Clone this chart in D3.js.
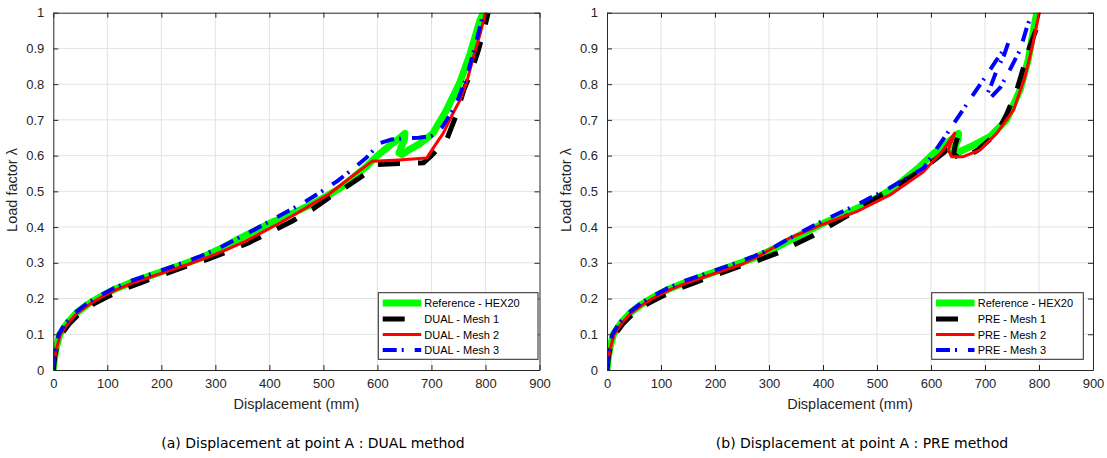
<!DOCTYPE html>
<html>
<head>
<meta charset="utf-8">
<script src="https://cdn.jsdelivr.net/npm/d3@7"></script>
<style>
  html, body { margin: 0; padding: 0; background: #fff; }
  svg { display: block; }
</style>
</head>
<body>
<svg id="chart" width="1107" height="458"></svg>
<script>
// ---------- data ----------
const xTicks = [0, 100, 200, 300, 400, 500, 600, 700, 800, 900];
const yTicks = [0, 0.1, 0.2, 0.3, 0.4, 0.5, 0.6, 0.7, 0.8, 0.9, 1];
const yTickLabels = ["0", "0.1", "0.2", "0.3", "0.4", "0.5", "0.6", "0.7", "0.8", "0.9", "1"];

const seriesNamesDual = ["Reference - HEX20", "DUAL - Mesh 1", "DUAL - Mesh 2", "DUAL - Mesh 3"];
const seriesNamesPre  = ["Reference - HEX20", "PRE - Mesh 1", "PRE - Mesh 2", "PRE - Mesh 3"];
const captions = ["(a) Displacement at point A : DUAL method", "(b) Displacement at point A : PRE method"];

// (a) DUAL
const refDualX = [0, 2, 5, 12, 25, 43, 65, 87, 115, 148, 180, 210, 240, 272, 310, 346, 380, 407, 440, 469, 500, 531, 560, 580, 600, 620, 640, 651, 650, 643, 640, 646, 654, 680, 703, 728, 752, 772, 790, 796];
const refDualY = [0, 0.03, 0.06, 0.10, 0.13, 0.16, 0.185, 0.205, 0.227, 0.247, 0.264, 0.28, 0.296, 0.313, 0.34, 0.369, 0.395, 0.415, 0.436, 0.457, 0.482, 0.509, 0.545, 0.57, 0.60, 0.625, 0.648, 0.662, 0.645, 0.62, 0.607, 0.603, 0.612, 0.635, 0.663, 0.728, 0.803, 0.887, 0.98, 1.0];
const dual1X = [0, 3, 7, 15, 30, 50, 75, 100, 130, 165, 200, 240, 280, 320, 360, 400, 440, 480, 509, 540, 580, 600, 640, 685, 700, 728, 745, 760, 775, 787, 797, 805];
const dual1Y = [0, 0.04, 0.07, 0.10, 0.13, 0.16, 0.185, 0.205, 0.226, 0.246, 0.265, 0.287, 0.307, 0.33, 0.355, 0.385, 0.415, 0.45, 0.481, 0.51, 0.551, 0.575, 0.578, 0.58, 0.60, 0.644, 0.71, 0.784, 0.84, 0.896, 0.95, 1.0];
const dual2X = [0, 2, 6, 13, 27, 45, 68, 90, 120, 150, 185, 215, 250, 285, 320, 355, 390, 420, 450, 480, 510, 540, 565, 590, 640, 691, 705, 722, 737, 753, 766, 778, 790, 800];
const dual2Y = [0, 0.03, 0.06, 0.10, 0.13, 0.16, 0.185, 0.205, 0.227, 0.245, 0.263, 0.278, 0.296, 0.315, 0.336, 0.36, 0.388, 0.412, 0.438, 0.465, 0.492, 0.527, 0.556, 0.584, 0.588, 0.593, 0.625, 0.663, 0.71, 0.756, 0.81, 0.878, 0.94, 1.0];
const dual3X = [0, 1, 4, 10, 22, 40, 62, 85, 112, 145, 178, 208, 240, 270, 305, 340, 375, 405, 435, 465, 495, 525, 555, 580, 605, 625, 654, 676, 700, 720, 744, 765, 784, 796];
const dual3Y = [0, 0.03, 0.06, 0.10, 0.13, 0.16, 0.186, 0.207, 0.229, 0.25, 0.267, 0.283, 0.3, 0.317, 0.34, 0.367, 0.395, 0.42, 0.445, 0.47, 0.498, 0.528, 0.563, 0.595, 0.635, 0.645, 0.649, 0.65, 0.655, 0.68, 0.738, 0.82, 0.924, 1.0];

// (b) PRE
const refPreX = [0, 2, 5, 12, 25, 43, 65, 87, 115, 148, 180, 210, 240, 272, 310, 346, 380, 407, 440, 469, 500, 531, 560, 580, 600, 620, 640, 651, 650, 643, 640, 646, 654, 680, 709, 740, 765, 780, 792, 796];
const refPreY = [0, 0.03, 0.06, 0.10, 0.13, 0.16, 0.185, 0.205, 0.227, 0.247, 0.264, 0.28, 0.296, 0.313, 0.34, 0.369, 0.395, 0.415, 0.436, 0.457, 0.482, 0.509, 0.545, 0.57, 0.60, 0.625, 0.648, 0.662, 0.645, 0.62, 0.607, 0.603, 0.612, 0.63, 0.653, 0.70, 0.784, 0.868, 0.97, 1.0];
const pre1X = [0, 3, 7, 15, 30, 50, 75, 100, 130, 165, 200, 240, 280, 320, 339, 380, 420, 460, 493, 530, 573, 600, 625, 645, 650, 645, 642, 655, 686, 722, 740, 759, 783, 799, 805];
const pre1Y = [0, 0.04, 0.07, 0.10, 0.13, 0.16, 0.185, 0.205, 0.226, 0.246, 0.265, 0.287, 0.307, 0.33, 0.345, 0.375, 0.41, 0.445, 0.476, 0.51, 0.551, 0.58, 0.61, 0.645, 0.655, 0.63, 0.605, 0.588, 0.615, 0.663, 0.715, 0.784, 0.906, 0.971, 1.0];
const pre2X = [0, 2, 6, 13, 27, 45, 68, 90, 120, 150, 185, 215, 250, 285, 339, 400, 462, 524, 586, 623, 644, 638, 632, 638, 660, 691, 722, 753, 774, 789, 799, 801];
const pre2Y = [0, 0.03, 0.06, 0.10, 0.13, 0.16, 0.185, 0.205, 0.227, 0.245, 0.263, 0.278, 0.296, 0.322, 0.37, 0.408, 0.443, 0.49, 0.555, 0.616, 0.663, 0.64, 0.616, 0.597, 0.597, 0.616, 0.663, 0.728, 0.82, 0.915, 0.99, 1.0];
const pre3X = [0, 1, 4, 10, 22, 40, 62, 85, 112, 145, 178, 208, 240, 270, 305, 340, 400, 462, 524, 586, 610, 629, 648, 672, 687, 706, 718, 733, 743, 735, 722, 712, 705, 703, 706, 712, 728, 746, 765, 779, 785, 788];
const pre3Y = [0, 0.03, 0.06, 0.10, 0.13, 0.16, 0.186, 0.207, 0.229, 0.25, 0.267, 0.283, 0.3, 0.317, 0.34, 0.37, 0.418, 0.462, 0.51, 0.565, 0.618, 0.66, 0.703, 0.757, 0.79, 0.832, 0.86, 0.893, 0.915, 0.88, 0.84, 0.80, 0.775, 0.765, 0.76, 0.765, 0.79, 0.84, 0.896, 0.966, 0.99, 1.0];

// ---------- styles ----------
const styles = [
  { color: "#00ff00", width: 7, dash: null },
  { color: "#000000", width: 5, dash: "22,18" },
  { color: "#ff0000", width: 3, dash: null },
  { color: "#0000ff", width: 4, dash: "14,5,2,11" }
];
const axisColor = "#262626";
const gridColor = "#e3e3e3";
const tickFont = "Liberation Sans, Arial, Helvetica, sans-serif";

const svg = d3.select("#chart");

function zip(xs, ys) { return xs.map((x, i) => [x, ys[i]]); }

const panels = [
  { left: 53.3, right: 539.5, names: seriesNamesDual, caption: captions[0],
    data: [zip(refDualX, refDualY), zip(dual1X, dual1Y), zip(dual2X, dual2Y), zip(dual3X, dual3Y)],
    legend: { x0: 378.3, x1: 538, sampleX: 382.7, textX: 424.3 }, capX: 313 },
  { left: 607, right: 1093, names: seriesNamesPre, caption: captions[1],
    data: [zip(refPreX, refPreY), zip(pre1X, pre1Y), zip(pre2X, pre2Y), zip(pre3X, pre3Y)],
    legend: { x0: 931.7, x1: 1083.3, sampleX: 936, textX: 977.7 }, capX: 862 }
];
const plotTop = 12.7, plotBottom = 370;

panels.forEach((p, pi) => {
  const x = d3.scaleLinear().domain([0, 900]).range([p.left, p.right]);
  const y = d3.scaleLinear().domain([0, 1]).range([plotBottom, plotTop]);
  const g = svg.append("g");

  // grid
  g.append("g").selectAll("line").data(xTicks.slice(1, -1)).join("line")
    .attr("x1", d => x(d)).attr("x2", d => x(d)).attr("y1", plotTop).attr("y2", plotBottom)
    .attr("stroke", gridColor).attr("stroke-width", 1);
  g.append("g").selectAll("line").data(yTicks.slice(1, -1)).join("line")
    .attr("y1", d => y(d)).attr("y2", d => y(d)).attr("x1", p.left).attr("x2", p.right)
    .attr("stroke", gridColor).attr("stroke-width", 1);

  // clip
  const clipId = "clip" + pi;
  svg.append("clipPath").attr("id", clipId).append("rect")
    .attr("x", p.left).attr("y", plotTop).attr("width", p.right - p.left).attr("height", plotBottom - plotTop);

  const line = d3.line().x(d => x(d[0])).y(d => y(d[1]));
  const lg = g.append("g").attr("clip-path", `url(#${clipId})`);
  p.data.forEach((d, i) => {
    const s = styles[i];
    lg.append("path").datum(d).attr("d", line)
      .attr("fill", "none").attr("stroke", s.color).attr("stroke-width", s.width)
      .attr("stroke-linejoin", "round").attr("stroke-linecap", s.dash ? "butt" : "round")
      .attr("stroke-dasharray", s.dash);
  });

  // axes (MATLAB-like box with inward ticks)
  const axB = d3.axisBottom(x).tickValues(xTicks).tickSizeInner(-5).tickSizeOuter(0).tickPadding(9);
  const axT = d3.axisTop(x).tickValues(xTicks).tickSizeInner(-5).tickSizeOuter(0).tickFormat("");
  const axL = d3.axisLeft(y).tickValues(yTicks).tickSizeInner(-5).tickSizeOuter(0).tickPadding(9)
    .tickFormat((d, i) => yTickLabels[i]);
  const axR = d3.axisRight(y).tickValues(yTicks).tickSizeInner(-5).tickSizeOuter(0).tickFormat("");

  const axes = [
    g.append("g").attr("transform", `translate(0,${plotBottom})`).call(axB),
    g.append("g").attr("transform", `translate(0,${plotTop})`).call(axT),
    g.append("g").attr("transform", `translate(${p.left},0)`).call(axL),
    g.append("g").attr("transform", `translate(${p.right},0)`).call(axR)
  ];
  axes.forEach(a => {
    a.selectAll("path.domain").attr("stroke", axisColor).attr("stroke-width", 1);
    a.selectAll(".tick line").attr("stroke", axisColor).attr("stroke-width", 1);
    a.selectAll("text").attr("fill", axisColor).style("font-family", tickFont).style("font-size", "13px");
  });

  // axis labels
  g.append("text").attr("x", (p.left + p.right) / 2).attr("y", 409)
    .attr("text-anchor", "middle").attr("fill", axisColor)
    .style("font-family", tickFont).style("font-size", "14.5px").text("Displacement (mm)");
  g.append("text").attr("transform", `translate(${p.left - 36},190) rotate(-90)`)
    .attr("text-anchor", "middle").attr("fill", axisColor)
    .style("font-family", tickFont).style("font-size", "14.5px").text("Load factor λ");

  // legend
  const L = p.legend;
  const lgd = g.append("g");
  lgd.append("rect").attr("x", L.x0).attr("y", 292.7).attr("width", L.x1 - L.x0).attr("height", 66.6)
    .attr("fill", "#fff").attr("stroke", axisColor).attr("stroke-width", 1);
  const rowsY = [303, 319, 334.5, 350];
  p.names.forEach((name, i) => {
    const s = styles[i];
    lgd.append("line").attr("x1", L.sampleX).attr("x2", L.sampleX + 38.5)
      .attr("y1", rowsY[i]).attr("y2", rowsY[i])
      .attr("stroke", s.color).attr("stroke-width", s.width).attr("stroke-dasharray", s.dash);
    lgd.append("text").attr("x", L.textX).attr("y", rowsY[i] + 4)
      .attr("fill", "#000").style("font-family", tickFont).style("font-size", "11px").text(name);
  });

  // caption
  svg.append("text").attr("x", p.capX).attr("y", 448).attr("text-anchor", "middle")
    .attr("fill", "#000").style("font-family", "DejaVu Sans, sans-serif").style("font-size", "14px")
    .text(p.caption);
});
</script>
</body>
</html>
